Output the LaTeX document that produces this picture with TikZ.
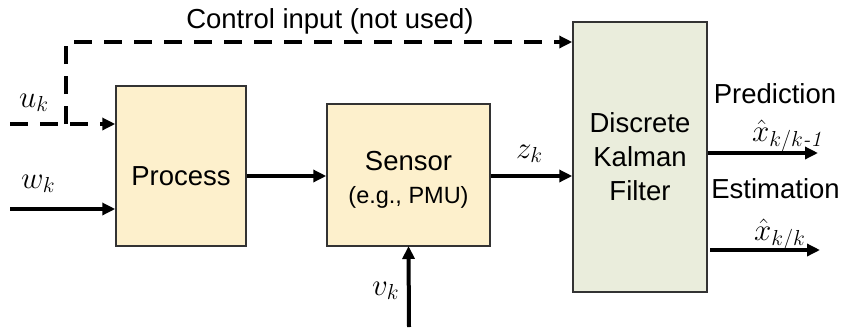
\RequirePackage{fix-cm}
\documentclass[tikz,border=0pt]{standalone}
\usepackage{amsmath}
\usepackage{fontspec}
\setmainfont{Liberation Sans}
\usetikzlibrary{arrows.meta}
\definecolor{blockfill}{HTML}{FDF0CC}
\definecolor{filterfill}{HTML}{EAEDDC}
\definecolor{blockedge}{HTML}{333333}
\newcommand{\itsub}[1]{\text{\fontfamily{lmr}\itshape #1}}
\begin{document}
\begin{tikzpicture}[x=1pt,y=-1pt,
  block/.style={draw=blockedge, line width=1.5pt, fill=blockfill, inner sep=0pt},
  sig/.style={line width=4pt, -{Triangle[length=13pt,width=12pt]}},
  ctl/.style={sig, dash pattern=on 18pt off 12pt},
  txt/.style={font=\fontsize{27.5}{34}\selectfont, inner sep=0pt},
  small/.style={font=\fontsize{23.5}{28}\selectfont, inner sep=0pt},
  mlbl/.style={font=\fontsize{31}{34}\selectfont, inner sep=0pt, anchor=base west}]
\useasboundingbox (0,0) rectangle (845,327);

% blocks
\node[block, minimum width=130pt, minimum height=160pt] (proc) at (181,166) {};
\node[block, minimum width=163pt, minimum height=142pt] (sens) at (408.5,175) {};
\node[block, fill=filterfill, minimum width=134pt, minimum height=270pt,
      txt, align=center] (kf) at (640,157) {Discrete\\Kalman\\Filter};

\node[txt, anchor=base] (proctxt) at (181,185) {Process};
\node[txt, anchor=base] (senstxt) at (408.5,170) {Sensor};
\node[small, anchor=base] (senssub) at (408.5,203) {(e.g., PMU)};

% free ends of the connectors
\coordinate (uin) at (10,124);
\coordinate (ujoin) at (66,124);
\coordinate (ctop) at (66,42);
\coordinate (win) at (10,209);
\coordinate (vin) at (409,327);
\coordinate (pout) at (818,153);
\coordinate (eout) at (820,250);
\coordinate (estart) at (710,250);

% control input (dashed)
\draw[ctl] (uin) -- (proc.west |- uin);
\draw[ctl] (ujoin) |- (kf.west |- ctop);
\node[txt, anchor=base] (ctltxt) at (330,28) {Control input (not used)};

% signal paths
\draw[sig] (win) -- (proc.west |- win);
\draw[sig] (proc.east |- 0,176) -- (sens.west |- 0,176);
\draw[sig] (sens.east |- 0,176) -- (kf.west |- 0,176);
\draw[sig] (vin) -- (sens.south |- 0,246);
\draw[sig] (kf.east |- pout) -- (pout);
\draw[sig] (estart) -- (eout);

% signal labels
\node[mlbl] (ulbl) at (19,107) {$u_k$};
\node[mlbl] (wlbl) at (21,188) {$w_k$};
\node[mlbl] (zlbl) at (516,158) {$z_k$};
\node[mlbl] (vlbl) at (372,295) {$v_k$};

\node[txt, anchor=base] (predtxt) at (775,103) {Prediction};
\node[mlbl] (predlbl) at (752,141) {$\hat{x}_{k/k\itsub{-1}}$};
\node[txt, anchor=base] (esttxt) at (775.5,198) {Estimation};
\node[mlbl] (estlbl) at (754,240) {$\hat{x}_{k/k}$};
\end{tikzpicture}
\end{document}
